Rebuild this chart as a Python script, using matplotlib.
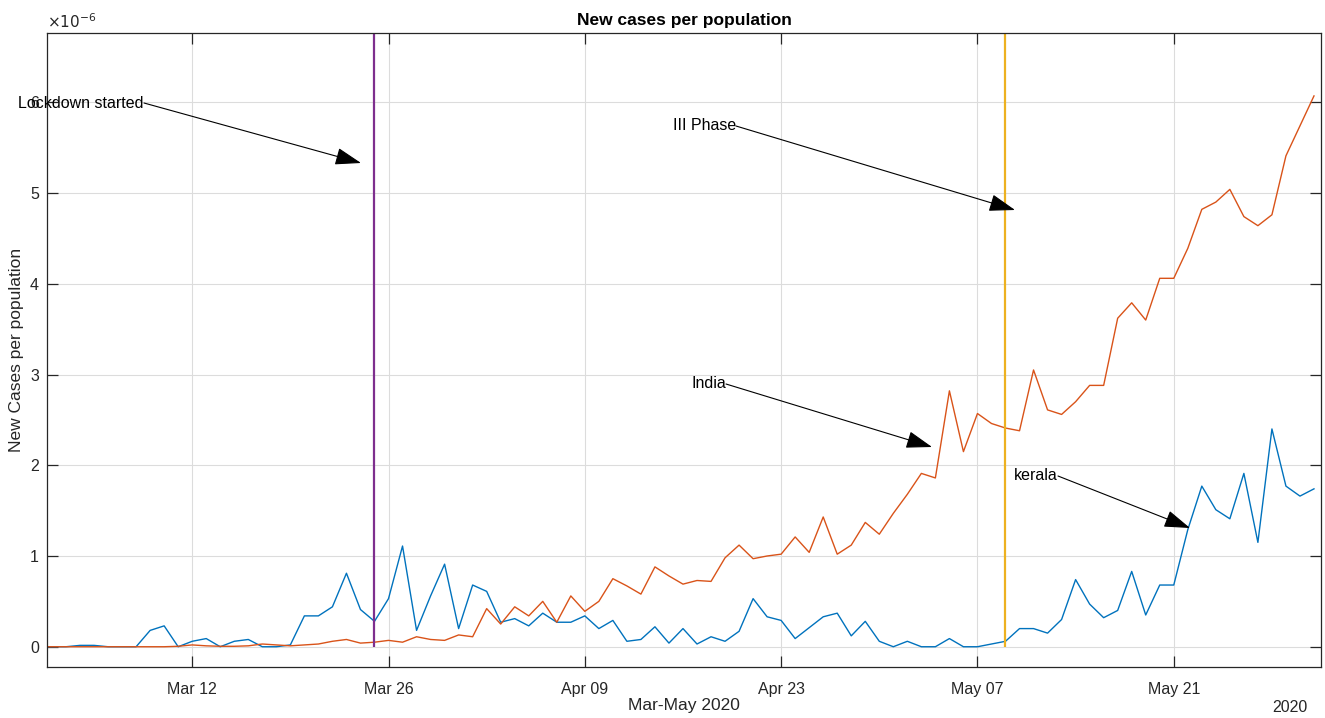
import numpy as np
import pandas as pd
import matplotlib
matplotlib.use('Agg')
import matplotlib.pyplot as plt
import matplotlib.dates as mdates

# daily new cases per population, in units of 1e-6, Mar 1 .. May 31 2020
dates = pd.date_range('2020-03-01', '2020-05-31', freq='D')

kerala = [0, 0, 0, 0.015, 0.015, 0, 0, 0, 0.18, 0.23,
          0, 0.06, 0.09, 0, 0.06, 0.08, 0, 0, 0.02, 0.34,
          0.34, 0.44, 0.81, 0.41, 0.28, 0.53, 1.11, 0.18, 0.56, 0.91,
          0.20,
          0.68, 0.61, 0.27, 0.31, 0.23, 0.37, 0.27, 0.27, 0.34, 0.20,
          0.29, 0.06, 0.08, 0.22, 0.04, 0.20, 0.03, 0.11, 0.06, 0.17,
          0.53, 0.33, 0.29, 0.09, 0.21, 0.33, 0.37, 0.12, 0.28, 0.06,
          0.00, 0.06, 0, 0, 0.09, 0, 0, 0.03, 0.06, 0.20,
          0.20, 0.15, 0.30, 0.74, 0.47, 0.32, 0.40, 0.83, 0.35, 0.68,
          0.68, 1.29, 1.77, 1.51, 1.41, 1.91, 1.15, 2.40, 1.77, 1.66,
          1.74]

india = [0, 0, 0, 0, 0, 0, 0, 0, 0, 0,
         0.005, 0.02, 0.01, 0.005, 0.005, 0.01, 0.03, 0.02, 0.01, 0.02,
         0.03, 0.06, 0.08, 0.04, 0.05, 0.07, 0.05, 0.11, 0.08, 0.07,
         0.13,
         0.11, 0.42, 0.25, 0.44, 0.34, 0.50, 0.27, 0.56, 0.39, 0.50,
         0.75, 0.67, 0.58, 0.88, 0.78, 0.69, 0.73, 0.72, 0.98, 1.12,
         0.97, 1.00, 1.02, 1.21, 1.04, 1.43, 1.02, 1.12, 1.37, 1.24,
         1.47, 1.68, 1.91, 1.86, 2.82, 2.15, 2.57, 2.46, 2.41, 2.38,
         3.05, 2.61, 2.56, 2.70, 2.88, 2.88, 3.62, 3.79, 3.60, 4.06,
         4.06, 4.39, 4.82, 4.90, 5.04, 4.74, 4.64, 4.76, 5.41, 5.74,
         6.07]

lockdown_date = pd.Timestamp('2020-03-25')
phase3_date = pd.Timestamp('2020-05-09')
tick_dates = pd.to_datetime(['2020-03-12', '2020-03-26', '2020-04-09',
                             '2020-04-23', '2020-05-07', '2020-05-21'])

W, H = 1325, 718
plt.rcParams['font.family'] = ['Liberation Sans', 'DejaVu Sans']
axcol = '#262626'

fig = plt.figure(figsize=(W / 100, H / 100), dpi=100)
ax = fig.add_axes([47.3 / W, 1 - 666.7 / H, (1321 - 47.3) / W, (666.7 - 33.3) / H])

ax.plot(dates, kerala, color='#0072BD', lw=1.0)
ax.plot(dates, india, color='#D95319', lw=1.0)
ax.vlines(lockdown_date, 0, 10, color='#7E2F8E', lw=1.6)
ax.vlines(phase3_date, 0, 10, color='#EDB120', lw=1.6)

ax.set_xlim(dates[0] + pd.Timedelta(hours=16), dates[-1] + pd.Timedelta(hours=12))
ax.set_ylim(-0.22, 6.76)
ax.set_yticks(range(0, 7))
ax.set_xticks(tick_dates)
ax.xaxis.set_major_formatter(mdates.DateFormatter('%b %d'))

ax.grid(True, color='#dcdcdc', lw=0.8)
ax.set_axisbelow(True)
for s in ax.spines.values():
    s.set_color(axcol)
    s.set_linewidth(0.9)
ax.tick_params(direction='in', length=8, width=0.9, colors=axcol, labelsize=11.5,
               top=True, right=True, labeltop=False, labelright=False)
ax.tick_params(axis='x', pad=11)
ax.tick_params(axis='y', pad=6)

ax.set_title('New cases per population', fontsize=12.5, fontweight='bold', pad=6)
ax.set_xlabel('Mar-May 2020', fontsize=12.5, color=axcol, labelpad=1)
ax.set_ylabel('New Cases per population', fontsize=12.5, color=axcol, labelpad=4)
ax.text(0, 1.004, r'$\times10^{-6}$', transform=ax.transAxes, fontsize=11,
        color=axcol, ha='left', va='bottom')
fig.text(1290 / W, 1 - 708 / H, '2020', fontsize=11.5, color=axcol, ha='center', va='center')


def fp(x, y):
    return (x / W, 1 - y / H)


notes = [('Lockdown started', (144, 103), (361, 163)),
         ('III Phase', (736, 126), (1015, 210)),
         ('India', (726, 384), (932, 447)),
         ('kerala', (1058, 476), (1190, 528))]
for label, tail, head in notes:
    fig.text(*fp(*tail), label, fontsize=11.5, color='black', ha='right', va='center')
    ax.annotate('', xy=fp(*head), xytext=fp(*tail), xycoords='figure fraction',
                textcoords='figure fraction', annotation_clip=False,
                arrowprops=dict(arrowstyle='-|>,head_length=0.9,head_width=0.3',
                                mutation_scale=18, color='black', lw=0.8,
                                shrinkA=0, shrinkB=0))

fig.savefig('out.png', dpi=100)
